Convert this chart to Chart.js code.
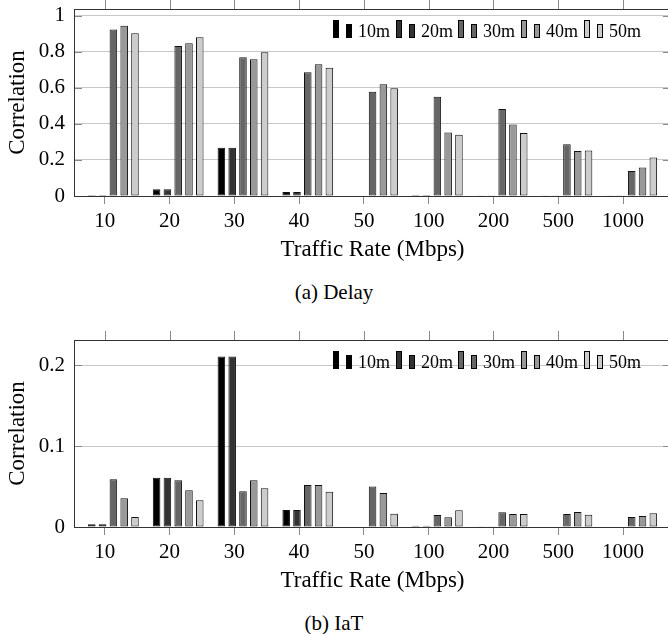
<!DOCTYPE html>
<html>
<head>
<meta charset="utf-8">
<script src="https://cdn.jsdelivr.net/npm/chart.js@4.4.1/dist/chart.umd.min.js"></script>
<style>
  html, body { margin: 0; padding: 0; background: #fff; overflow: hidden; }
  body { width: 668px; height: 634px; position: relative; }
  .panel { position: absolute; left: 0; }
  .caption {
    position: absolute; left: 0; width: 668px; text-align: center;
    font-family: 'Liberation Serif', serif; font-size: 21px; line-height: 24px; color: #000;
  }
</style>
</head>
<body>
<canvas class="panel" id="delayChart" width="676" height="270" style="top:0"></canvas>
<div class="caption" style="top:280px">(a) Delay</div>
<canvas class="panel" id="iatChart" width="676" height="270" style="top:331px"></canvas>
<div class="caption" style="top:611px">(b) IaT</div>

<script>
// categories (traffic rate) and window sizes
const rates = ['10', '20', '30', '40', '50', '100', '200', '500', '1000']
const windows = ['10m', '20m', '30m', '40m', '50m']
const fills = ['#000000', '#333333', '#666666', '#999999', '#cccccc']

// (a) Delay correlation, one array per window
const delay10m = [0.005, 0.037, 0.267, 0.022, 0, 0.006, 0.001, 0.001, 0.001]
const delay20m = [0.005, 0.037, 0.267, 0.022, 0, 0.006, 0.001, 0.001, 0.001]
const delay30m = [0.924, 0.832, 0.769, 0.686, 0.578, 0.550, 0.482, 0.287, 0.139]
const delay40m = [0.944, 0.847, 0.758, 0.730, 0.620, 0.352, 0.397, 0.250, 0.158]
const delay50m = [0.902, 0.880, 0.797, 0.711, 0.597, 0.339, 0.350, 0.252, 0.213]

// (b) IaT correlation
const iat10m = [0.0033, 0.061, 0.211, 0.021, 0.0005, 0.0016, 0.001, 0.0005, 0.0005]
const iat20m = [0.0033, 0.061, 0.211, 0.021, 0.0005, 0.0016, 0.001, 0.0005, 0.0005]
const iat30m = [0.059, 0.058, 0.0443, 0.052, 0.050, 0.0149, 0.0182, 0.0161, 0.0124]
const iat40m = [0.0356, 0.0456, 0.058, 0.052, 0.042, 0.012, 0.0161, 0.0186, 0.0137]
const iat50m = [0.0124, 0.033, 0.048, 0.0435, 0.0165, 0.0207, 0.0161, 0.0153, 0.017]

// y tick labels
const delayTicks = [0, 0.2, 0.4, 0.6, 0.8, 1]
const iatTicks = [0, 0.1, 0.2]

const SERIF = "'Liberation Serif', serif"
Chart.defaults.font.family = SERIF
Chart.defaults.color = '#000'

// the tick marks sit a bit left of each bar group's centre in the original
const TICK_SHIFT = 0.134

// border box, top ticks, inner y ticks
const framePlugin = {
  id: 'frame',
  afterDatasetsDraw(chart) {
    const { ctx, chartArea: a, scales: { x, y } } = chart
    ctx.save()
    ctx.lineWidth = 1
    ctx.strokeStyle = '#8a8a8a'
    ctx.beginPath()
    x.ticks.forEach((t) => {
      const px = Math.round(x.getPixelForValue(t.value)) + 0.5
      ctx.moveTo(px, a.top)
      ctx.lineTo(px, a.top - 9)
    })
    y.ticks.forEach((t) => {
      const py = Math.round(y.getPixelForValue(t.value)) + 0.5
      ctx.moveTo(a.left, py)
      ctx.lineTo(a.left + 8, py)
      ctx.moveTo(a.right, py)
      ctx.lineTo(a.right - 8, py)
    })
    ctx.stroke()
    ctx.strokeStyle = '#333'
    ctx.strokeRect(Math.round(a.left) + 0.5, Math.round(a.top) + 0.5,
      Math.round(a.right - a.left), Math.round(a.bottom - a.top))
    ctx.restore()
  }
}

// pgfplots style legend: two small bars then the label
const legendPlugin = {
  id: 'barLegend',
  afterDatasetsDraw(chart) {
    const { ctx, chartArea: a } = chart
    const x0 = a.right - 338
    const top = Math.round(a.top) + 11
    ctx.save()
    ctx.font = '18px ' + SERIF
    ctx.textBaseline = 'alphabetic'
    ctx.lineWidth = 1
    ctx.strokeStyle = '#000'
    chart.data.datasets.forEach((ds, i) => {
      const x = Math.round(x0 + i * 62.7)
      ctx.fillStyle = ds.backgroundColor
      ctx.fillRect(x, top, 5, 17)
      ctx.strokeRect(x + 0.5, top + 0.5, 5, 17)
      ctx.fillRect(x + 13, top + 4, 5, 13)
      ctx.strokeRect(x + 13.5, top + 4.5, 5, 13)
      ctx.fillStyle = '#000'
      ctx.fillText(ds.label, x + 25, top + 17)
    })
    ctx.restore()
  }
}

function buildDatasets(series) {
  return series.map((values, i) => ({
    label: windows[i],
    data: values.map((v, j) => ({ x: j, y: v })),
    backgroundColor: fills[i],
    borderColor: '#111',
    borderWidth: 1,
    borderSkipped: false,
    categoryPercentage: 0.833,
    barPercentage: 0.7
  }))
}

function makeChart(id, series, yMax, yTicks) {
  return new Chart(document.getElementById(id), {
    type: 'bar',
    data: { datasets: buildDatasets(series) },
    options: {
      responsive: false,
      animation: false,
      layout: { padding: { top: 9, right: 5, left: 0, bottom: 0 } },
      plugins: { legend: { display: false }, tooltip: { enabled: false } },
      scales: {
        x: {
          type: 'linear',
          offset: false,
          min: -0.608,
          max: 8.606,
          afterBuildTicks: (scale) => {
            scale.ticks = rates.map((r, i) => ({ value: i - TICK_SHIFT }))
          },
          afterFit: (scale) => {
            scale.height = 74
            scale.paddingLeft = 0
            scale.paddingRight = 0
          },
          ticks: {
            callback: (v, i) => rates[i],
            font: { size: 21 },
            padding: 5,
            maxRotation: 0,
            autoSkip: false
          },
          grid: { offset: false, drawOnChartArea: false, tickLength: 8, color: '#8a8a8a' },
          border: { color: '#333' },
          title: {
            display: true,
            text: 'Traffic Rate (Mbps)',
            font: { size: 23 },
            padding: { top: 0, bottom: 6 }
          }
        },
        y: {
          min: 0,
          max: yMax,
          afterBuildTicks: (scale) => {
            scale.ticks = yTicks.map((v) => ({ value: v }))
          },
          afterFit: (scale) => {
            scale.width = 74
            scale.paddingTop = 0
            scale.paddingBottom = 0
          },
          ticks: {
            callback: (v) => String(v),
            font: { size: 21 },
            padding: 9
          },
          grid: { color: '#c8c8c8', drawTicks: false },
          border: { color: '#333' },
          title: {
            display: true,
            text: 'Correlation',
            font: { size: 23 },
            padding: { top: 4, bottom: 0 }
          }
        }
      }
    },
    plugins: [framePlugin, legendPlugin]
  })
}

makeChart('delayChart', [delay10m, delay20m, delay30m, delay40m, delay50m], 1.037, delayTicks)
makeChart('iatChart', [iat10m, iat20m, iat30m, iat40m, iat50m], 0.2314, iatTicks)
</script>
</body>
</html>
